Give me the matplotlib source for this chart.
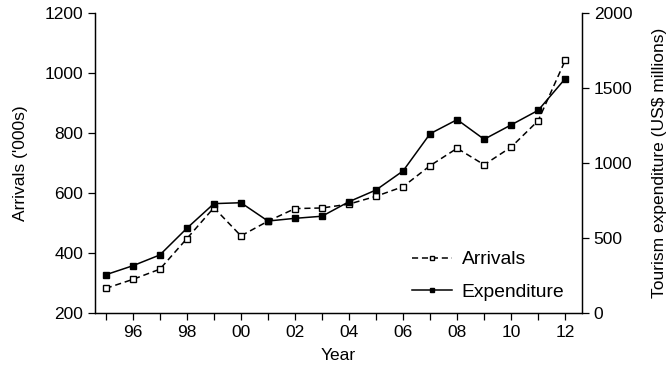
import matplotlib
matplotlib.use("Agg")
import matplotlib.pyplot as plt

years = list(range(1995, 2013))
arrivals = [283, 313, 347, 449, 552, 458, 507, 549, 551, 564, 590,
            622, 692, 750, 695, 754, 842, 1043]
expenditure = [257, 317, 389, 567, 731, 737, 615, 633, 647, 744, 822,
               949, 1197, 1291, 1160, 1256, 1353, 1564]
tick_years = list(range(1996, 2013, 2))
tick_labels = ["96", "98", "00", "02", "04", "06", "08", "10", "12"]

plt.rcParams['font.family'] = ['Liberation Sans', 'DejaVu Sans']
plt.rcParams['font.size'] = 12.5

fig = plt.figure(figsize=(6.72, 3.69), dpi=100)
ax = fig.add_axes([0.1414, 0.151, 0.7246, 0.813])
ax2 = ax.twinx()

l1, = ax.plot(years, arrivals, color='black', lw=1.1, ls=(0, (4, 2.5)),
              marker='s', ms=4.8, mfc='white', mec='black', mew=1.0)
l2, = ax2.plot(years, expenditure, color='black', lw=1.1, ls='-',
               marker='s', ms=4.8, mfc='black', mec='black')

ax.set_xlim(1994.6, 2012.62)
ax.set_ylim(200, 1200)
ax2.set_ylim(0, 2000)

ax.set_xticks(years, minor=True)
ax.set_xticks(tick_years)
ax.set_xticklabels(tick_labels)
ax.tick_params(axis='x', which='both', direction='out', length=5, width=0.9)
ax.tick_params(axis='y', direction='out', length=5, width=0.9)
ax2.tick_params(axis='y', direction='out', length=5, width=0.9)
ax.set_yticks([200, 400, 600, 800, 1000, 1200])
ax2.set_yticks([0, 500, 1000, 1500, 2000])

for a in (ax, ax2):
    a.spines['top'].set_visible(False)
    for s in a.spines.values():
        s.set_linewidth(0.9)

ax.set_xlabel("Year", labelpad=6)
ax.set_ylabel("Arrivals ('000s)", labelpad=12)
ax2.set_ylabel("Tourism expenditure (US$ millions)", labelpad=14)

ax.legend([l1, l2], ["Arrivals", "Expenditure"], loc='lower right',
          frameon=False, handlelength=2.1, handletextpad=0.5,
          bbox_to_anchor=(0.98, 0.015), borderaxespad=0,
          labelspacing=0.78, fontsize=13.9, markerscale=0.7)

fig.savefig("out.png", dpi=100)
